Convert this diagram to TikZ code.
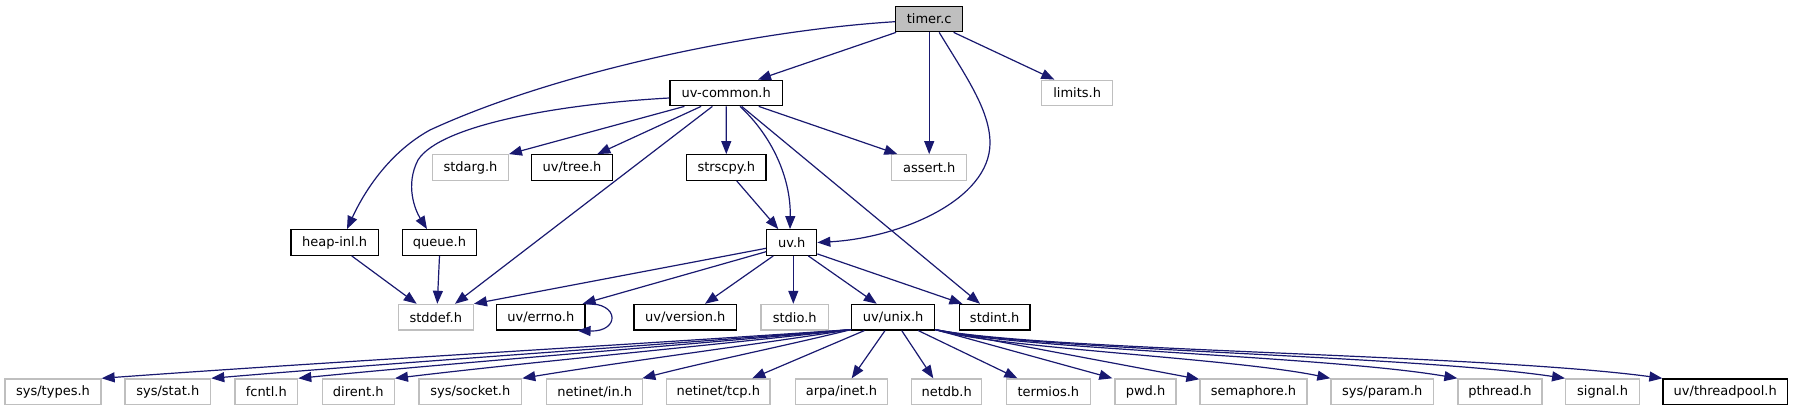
\documentclass[tikz,border=0pt]{standalone}
\usepackage{fontspec}
\setmainfont{DejaVu Sans}
\usetikzlibrary{arrows.meta,calc}
\definecolor{edgeblue}{HTML}{191970}
\definecolor{greyborder}{HTML}{BFBFBF}
\begin{document}
\begin{tikzpicture}[x=1pt,y=-1pt,
 box/.style={draw=black, line width=1.3pt, minimum height=25.5pt, inner xsep=0pt, inner ysep=0pt, font=\fontsize{13}{15}\selectfont, text=black},
 sysbox/.style={box, draw=greyborder},
 rootbox/.style={box, fill=greyborder},
 dep/.style={draw=edgeblue, line width=1.2pt, -{Triangle[length=13pt,width=10pt]}}
]
\useasboundingbox (0,0) rectangle (1793,411);
% row 1
\node[rootbox, minimum width=67pt] (timer) at (929.2,19) {timer.c};
% row 2
\node[box, minimum width=112.3pt] (uvcommon) at (726.2,93) {uv-common.h};
\node[sysbox, minimum width=71pt] (limits) at (1077.2,93) {limits.h};
% row 3
\node[sysbox, minimum width=75.6pt] (stdarg) at (470.5,167.5) {stdarg.h};
\node[box, minimum width=80.6pt] (uvtree) at (572,167.5) {uv/tree.h};
\node[box, minimum width=79.3pt] (strscpy) at (726.3,167.5) {strscpy.h};
\node[sysbox, minimum width=75pt] (assert) at (929.2,167.5) {assert.h};
% row 4
\node[box, minimum width=87.3pt] (heapinl) at (334.7,242.5) {heap-inl.h};
\node[box, minimum width=74.4pt] (queue) at (439.5,242.5) {queue.h};
\node[box, minimum width=50pt] (uvh) at (791.7,242.5) {uv.h};
% row 5
\node[sysbox, minimum width=75pt] (stddef) at (435.8,317.2) {stddef.h};
\node[box, minimum width=88.3pt] (errno) at (540.8,317.2) {uv/errno.h};
\node[box, minimum width=102.7pt] (version) at (685.3,317.2) {uv/version.h};
\node[sysbox, minimum width=67.3pt] (stdio) at (794.7,317.2) {stdio.h};
\node[box, minimum width=83pt] (unix) at (893.2,317.2) {uv/unix.h};
\node[box, minimum width=70.7pt] (stdint) at (994.7,317.2) {stdint.h};
% row 6
\node[sysbox, minimum width=96pt] (types) at (53,391.7) {sys/types.h};
\node[sysbox, minimum width=85.7pt] (stat) at (167.8,391.7) {sys/stat.h};
\node[sysbox, minimum width=62.7pt] (fcntl) at (266.3,391.7) {fcntl.h};
\node[sysbox, minimum width=72pt] (dirent) at (358.3,391.7) {dirent.h};
\node[sysbox, minimum width=102.7pt] (socket) at (470.3,391.7) {sys/socket.h};
\node[sysbox, minimum width=96pt] (netin) at (594.7,391.7) {netinet/in.h};
\node[sysbox, minimum width=103.3pt] (tcp) at (718.3,391.7) {netinet/tcp.h};
\node[sysbox, minimum width=91.6pt] (inet) at (841.5,391.7) {arpa/inet.h};
\node[sysbox, minimum width=70pt] (netdb) at (946.7,391.7) {netdb.h};
\node[sysbox, minimum width=83.5pt] (termios) at (1048.4,391.7) {termios.h};
\node[sysbox, minimum width=61pt] (pwd) at (1145.5,391.7) {pwd.h};
\node[sysbox, minimum width=107pt] (semaphore) at (1253.5,391.7) {semaphore.h};
\node[sysbox, minimum width=102.7pt] (param) at (1382.3,391.7) {sys/param.h};
\node[sysbox, minimum width=84pt] (pthread) at (1500,391.7) {pthread.h};
\node[sysbox, minimum width=73.8pt] (signal) at (1602.6,391.7) {signal.h};
\node[box, minimum width=124.4pt] (threadpool) at (1725.2,391.7) {uv/threadpool.h};

% timer.c edges
\draw[dep] ($(timer.south west)+(1,0)$) -- ($(uvcommon.north)+(31.8,0)$);
\draw[dep] ($(timer.west)+(0,2.7)$) .. controls (760,30) and (560,70) .. (430,130)
  .. controls (390,152) and (365,190) .. ($(heapinl.north)+(12.3,0)$);
\draw[dep] (timer.south) -- (assert.north);
\draw[dep] ($(timer.south)+(10,0)$) .. controls (965,75) and (990,110) .. (990,143)
  .. controls (990,200) and (900,238) .. (uvh.east);
\draw[dep] ($(timer.south east)+(-9.7,0)$) -- ($(limits.north west)+(13.3,0)$);

% uv-common.h edges
\draw[dep] ($(uvcommon.west)+(0,5)$) .. controls (560,104) and (440,125) .. (418,160)
  .. controls (405,185) and (415,210) .. ($(queue.north)+(-12.5,0)$);
\draw[dep] ($(uvcommon.south west)+(15,0)$) -- (stdarg.north east);
\draw[dep] ($(uvcommon.south west)+(31.7,0)$) -- ($(uvtree.north east)+(-15.6,0)$);
\draw[dep] ($(uvcommon.south west)+(43,0)$) -- ($(stddef.north)+(19.2,0)$);
\draw[dep] (uvcommon.south) -- (strscpy.north);
\draw[dep] ($(uvcommon.south)+(13.8,0)$) .. controls (772,136) and (791,178) .. ($(uvh.north)+(-1.7,0)$);
\draw[dep] ($(uvcommon.south)+(15.5,0)$) -- ($(stdint.north)+(-14.7,0)$);
\draw[dep] ($(uvcommon.south east)+(-24.3,0)$) -- ($(assert.north west)+(6.3,0)$);

% strscpy, heap-inl, queue
\draw[dep] ($(strscpy.south)+(10.4,0)$) -- ($(uvh.north)+(-13.4,0)$);
\draw[dep] ($(heapinl.south)+(17,0)$) -- ($(stddef.north)+(-19.1,0)$);
\draw[dep] (queue.south) -- ($(stddef.north)+(1.5,0)$);

% uv.h edges
\draw[dep] ($(uvh.west)+(0,5.8)$) -- (stddef.north east);
\draw[dep] ($(uvh.west)+(0,9.2)$) -- ($(errno.north east)+(-3,0)$);
\draw[dep] ($(uvh.south)+(-18.4,0)$) -- ($(version.north)+(19.7,0)$);
\draw[dep] ($(uvh.south)+(1.6,0)$) -- ($(stdio.north)+(-1.4,0)$);
\draw[dep] ($(uvh.south)+(16.6,0)$) -- ($(unix.north)+(-16.5,0)$);
\draw[dep] ($(uvh.south east)+(0,-2)$) -- ($(stdint.north west)+(3.7,0)$);

% errno self loop
\draw[dep] (errno.north east) .. controls (620,302) and (620,332) .. ($(errno.south east)+(-8,0)$);

% uv/unix.h edges, left bundle
\coordinate (uL) at ($(unix.south west)+(0,-1)$);
\draw[dep] (uL) .. controls (626.7,345) and (326,362) .. (types.north east);
\draw[dep] (uL) .. controls (659.4,345) and (403,362) .. (stat.north east);
\draw[dep] (uL) .. controls (685.5,345) and (463.9,362) .. (fcntl.north east);
\draw[dep] (uL) .. controls (714.5,345) and (531.5,362) .. (dirent.north east);
\draw[dep] (uL) .. controls (752.7,345) and (620.7,362) .. (socket.north east);
\draw[dep] (uL) .. controls (789,345) and (705.4,362) .. ($(netin.north east)+(-1,0)$);
% middle
\draw[dep] ($(unix.south west)+(13.3,0)$) -- ($(tcp.north east)+(-18.3,0)$);
\draw[dep] ($(unix.south)+(-8.2,0)$) -- ($(inet.north)+(10.2,0)$);
\draw[dep] ($(unix.south)+(8.5,0)$) -- ($(netdb.north)+(-13.4,0)$);
\draw[dep] ($(unix.south)+(25.1,0)$) -- ($(termios.north)+(-31,0)$);
% right bundle
\coordinate (uR) at ($(unix.south east)+(0,-1)$);
\draw[dep] (uR) -- ($(pwd.north west)+(-2,0)$);
\draw[dep] (uR) -- ($(semaphore.north west)+(0,1)$);
\draw[dep] (uR) .. controls (994,348) and (1232,358) .. (param.north west);
\draw[dep] (uR) .. controls (1013,349) and (1327,356) .. (pthread.north west);
\draw[dep] (uR) .. controls (1029,350) and (1408,355) .. (signal.north west);
\draw[dep] (uR) .. controls (1044,351) and (1481,354) .. (threadpool.north west);
\end{tikzpicture}
\end{document}
